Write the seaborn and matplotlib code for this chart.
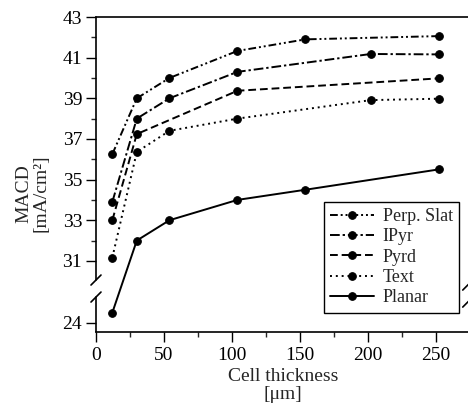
import numpy as np
import pandas as pd
import seaborn as sns
import matplotlib.pyplot as plt

# values (cell thickness in um, MACD in mA/cm2)
perp_x = [12, 30, 54, 104, 154, 252]
perp_y = [36.25, 39.0, 40.0, 41.33, 41.9, 42.06]
ipyr_x = [12, 30, 54, 104, 202, 252]
ipyr_y = [33.9, 38.0, 39.0, 40.3, 41.18, 41.16]
pyrd_x = [12, 30, 104, 252]
pyrd_y = [33.0, 37.24, 39.37, 39.98]
text_x = [12, 30, 54, 104, 202, 252]
text_y = [31.16, 36.36, 37.4, 38.0, 38.91, 38.98]
planar_x = [12, 30, 54, 104, 154, 252]
planar_y = [24.5, 32.0, 33.0, 34.0, 34.5, 35.5]

names = ["Perp. Slat", "IPyr", "Pyrd", "Text", "Planar"]
xs = [perp_x, ipyr_x, pyrd_x, text_x, planar_x]
ys = [perp_y, ipyr_y, pyrd_y, text_y, planar_y]

yticks = [24, 31, 33, 35, 37, 39, 41, 43]

rows = []
for n, xx, yy in zip(names, xs, ys):
    for a, b in zip(xx, yy):
        rows.append({"type": n, "thickness": a, "macd": b})
df = pd.DataFrame(rows)

sns.set_style("ticks")
plt.rcParams['font.family'] = ['Liberation Serif', 'DejaVu Serif']
FS = 14


# broken y axis: squeeze the empty 26..30 band
def fwd(y):
    y = np.asarray(y, dtype=float)
    return np.where(y <= 26, y + 3.95,
                    np.where(y >= 30, y, 29.95 + (y - 26) * 0.05 / 4))


def inv(t):
    t = np.asarray(t, dtype=float)
    return np.where(t <= 29.95, t - 3.95,
                    np.where(t >= 30, t, 26 + (t - 29.95) * 4 / 0.05))


fig = plt.figure(figsize=(4.68, 4.08), dpi=100)
ax = fig.add_axes([96 / 468, 1 - 332 / 408, 374 / 468, 315 / 408])

dashes = {"Perp. Slat": (4, 1.5, 1, 1.5, 1, 1.5),
          "IPyr": (5, 1.5, 1.2, 1.5),
          "Pyrd": (4, 2),
          "Text": (1, 2),
          "Planar": ""}
markers = {n: "o" for n in names}

sns.lineplot(data=df, x="thickness", y="macd", style="type", style_order=names,
             dashes=dashes, markers=markers, color="black", sort=False,
             linewidth=1.4, markersize=5.5, markeredgecolor="black", ax=ax)

ax.set_yscale('function', functions=(fwd, inv))
ax.set_ylim(23.55, 43)
ax.set_xlim(0, 270)
ax.set_yticks(yticks)
ax.set_yticks([32, 34, 36, 38, 40, 42], minor=True)
ax.set_xticks([0, 50, 100, 150, 200, 250])
ax.set_xticks([25, 75, 125, 175, 225, 275], minor=True)
ax.set_yticklabels([str(v) for v in yticks])
ax.tick_params(which="major", direction="out", length=7, width=1, labelsize=FS, colors="black")
ax.tick_params(which="minor", direction="out", length=3.6, width=1)
ax.tick_params(axis="x", pad=4)
ax.tick_params(axis="y", pad=3)

ax.set_xlabel("Cell thickness\n[\u03bcm]", fontsize=FS, linespacing=1.05, labelpad=3)
ax.set_ylabel("MACD\n[mA/cm\u00b2]", fontsize=FS, linespacing=1.0)
ax.yaxis.set_label_coords(-0.125, 0.44)

for s in ["top", "bottom"]:
    ax.spines[s].set_linewidth(1.2)
    ax.spines[s].set_color("black")
ax.spines["right"].set_visible(False)
ax.spines["left"].set_visible(False)

# left spine with a gap and break slashes
kw = dict(transform=ax.transAxes, color="black", lw=1.2, clip_on=False)
ax.plot([0, 0], [1, 0.165], **kw)
ax.plot([0, 0], [0.111, 0], **kw)
dx, dy = 5 / 374, 5 / 315
for yb in [0.165, 0.111]:
    ax.plot([-dx, dx], [yb - dy, yb + dy], **kw)
for yb in [0.149, 0.095]:
    ax.plot([0.994 - dx, 0.994 + dx], [yb - dy, yb + dy], **kw)

leg = ax.legend(loc="upper right", bbox_to_anchor=(0.971, 0.413), frameon=True,
                fancybox=False, edgecolor="black", framealpha=1, fontsize=13,
                handlelength=2.4, handletextpad=0.5, labelspacing=0.18,
                borderpad=0.35, borderaxespad=0)
leg.get_frame().set_linewidth(1.0)
leg.set_title(None)

fig.savefig("out.png", dpi=100)
